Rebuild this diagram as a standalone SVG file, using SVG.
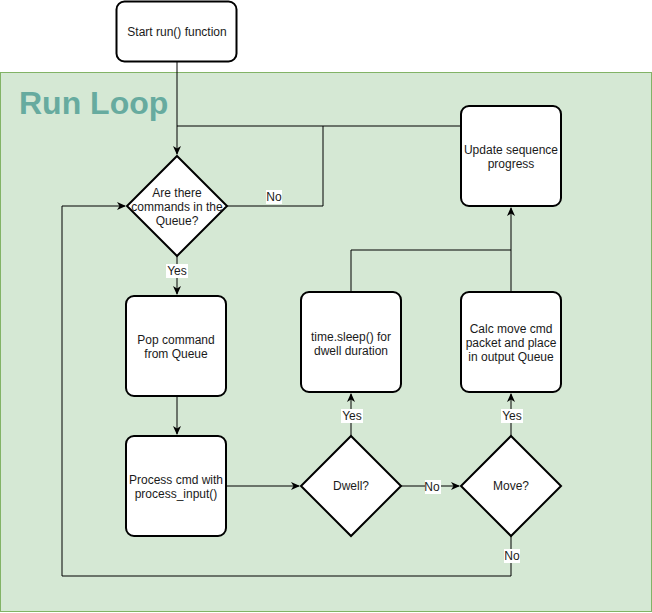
<svg xmlns="http://www.w3.org/2000/svg" width="652" height="613" viewBox="0 0 652 613">
<style>
.box{fill:#fff;stroke:#000;stroke-width:2}
.t{font-family:"Liberation Sans",Arial,sans-serif;font-size:12px;fill:#1a1a1a;text-anchor:middle}
.c{fill:none;stroke:#000;stroke-width:1}
.lb{fill:#fff}
</style>
<defs>
<marker id="a" markerWidth="10" markerHeight="10" refX="8" refY="5" orient="auto" markerUnits="userSpaceOnUse">
<path d="M0,1 L9,5 L0,9 L2.5,5 Z" fill="#000"/>
</marker>
</defs>
<g id="container">
<rect x="0.5" y="72.5" width="651" height="539" fill="#d5e8d4" stroke="#82b366"/>
<text x="19" y="114" font-family="Liberation Sans,Arial,sans-serif" font-size="32" font-weight="bold" fill="#67ab9f">Run Loop</text>
</g>
<g id="connectors">
<path class="c" d="M177,62 V154" marker-end="url(#a)"/>
<path class="c" d="M461,126 H177"/>
<path class="c" d="M227,206 H323 V126"/>
<path class="c" d="M177,256 V294" marker-end="url(#a)"/>
<path class="c" d="M177,396 V434" marker-end="url(#a)"/>
<path class="c" d="M226,486 H299" marker-end="url(#a)"/>
<path class="c" d="M401,486 H459" marker-end="url(#a)"/>
<path class="c" d="M351,436 V394" marker-end="url(#a)"/>
<path class="c" d="M511,436 V394" marker-end="url(#a)"/>
<path class="c" d="M351,292 V250 H511"/>
<path class="c" d="M511,292 V208" marker-end="url(#a)"/>
<path class="c" d="M511,536 V576 H62 V206 H125" marker-end="url(#a)"/>
<rect class="lb" x="266" y="190" width="16" height="14"/>
<text class="t" x="274" y="201">No</text>
<rect class="lb" x="166" y="264" width="22" height="14"/>
<text class="t" x="177" y="275">Yes</text>
<rect class="lb" x="341" y="409" width="22" height="14"/>
<text class="t" x="352" y="420">Yes</text>
<rect class="lb" x="501" y="409" width="22" height="14"/>
<text class="t" x="512" y="420">Yes</text>
<rect class="lb" x="425" y="480" width="16" height="14"/>
<text class="t" x="432" y="491">No</text>
<rect class="lb" x="504" y="549" width="16" height="14"/>
<text class="t" x="512" y="560">No</text>
</g>
<g id="start">
<rect class="box" x="116.5" y="1.5" width="120" height="60" rx="8"/>
<text class="t" x="177" y="36">Start run() function</text>
</g>
<g id="check-queue">
<path class="box" d="M177,156 L227,206 L177,256 L127,206 Z"/>
<text class="t" x="177" y="197">Are there</text>
<text class="t" x="177" y="211">commands in the</text>
<text class="t" x="177" y="225">Queue?</text>
</g>
<g id="update">
<rect class="box" x="461" y="106" width="100" height="100" rx="8"/>
<text class="t" x="511" y="154">Update sequence</text>
<text class="t" x="511" y="168">progress</text>
</g>
<g id="pop">
<rect class="box" x="126" y="296" width="100" height="100" rx="8"/>
<text class="t" x="176" y="344">Pop command</text>
<text class="t" x="176" y="358">from Queue</text>
</g>
<g id="process">
<rect class="box" x="126" y="436" width="100" height="100" rx="8"/>
<text class="t" x="176" y="484">Process cmd with</text>
<text class="t" x="176" y="498">process_input()</text>
</g>
<g id="sleep">
<rect class="box" x="301" y="292" width="100" height="100" rx="8"/>
<text class="t" x="351" y="341">time.sleep() for</text>
<text class="t" x="351" y="355">dwell duration</text>
</g>
<g id="calc">
<rect class="box" x="461" y="292" width="100" height="100" rx="8"/>
<text class="t" x="511" y="333">Calc move cmd</text>
<text class="t" x="511" y="347">packet and place</text>
<text class="t" x="511" y="361">in output Queue</text>
</g>
<g id="dwell">
<path class="box" d="M351,436 L401,486 L351,536 L301,486 Z"/>
<text class="t" x="351" y="490">Dwell?</text>
</g>
<g id="move">
<path class="box" d="M511,436 L561,486 L511,536 L461,486 Z"/>
<text class="t" x="511" y="490">Move?</text>
</g>
</svg>
